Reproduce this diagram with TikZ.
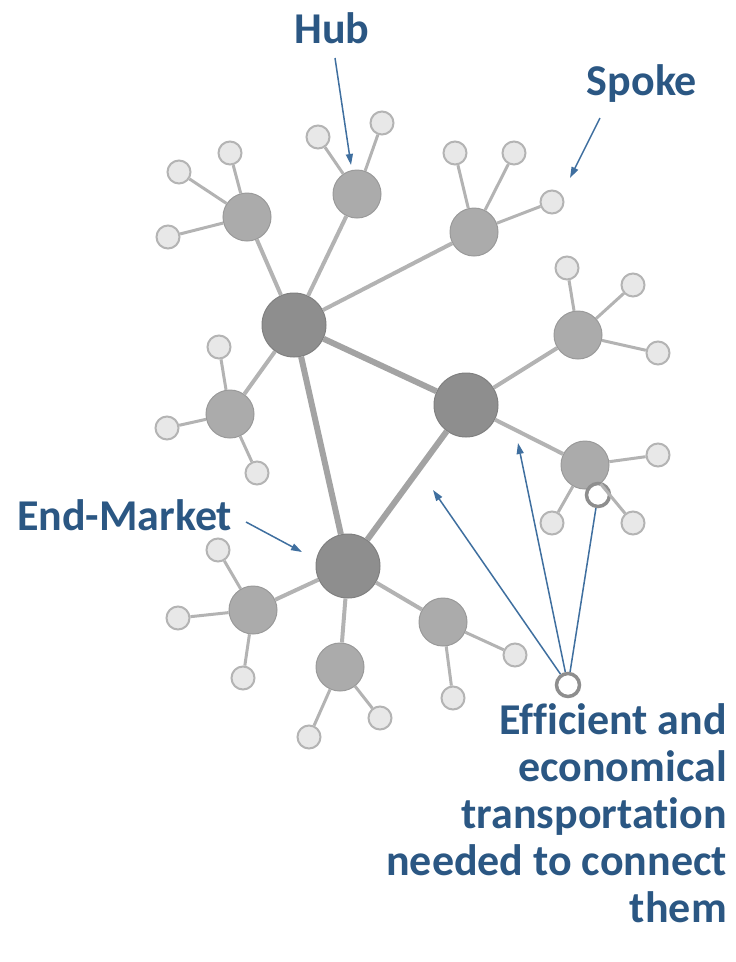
\documentclass[tikz,border=0pt]{standalone}
\usepackage{fontspec}
\setmainfont{Carlito}[Ligatures=CommonOff]
\usetikzlibrary{arrows.meta}
\definecolor{hubc}{HTML}{8E8E8E}
\definecolor{midc}{HTML}{ABABAB}
\definecolor{smallf}{HTML}{E8E8E8}
\definecolor{smalld}{HTML}{B4B4B4}
\definecolor{edgec}{HTML}{B3B3B3}
\definecolor{trunkc}{HTML}{A3A3A3}
\definecolor{txtc}{HTML}{2B5783}
\definecolor{arrc}{HTML}{3F6F9F}
\tikzset{
  hubnode/.style={circle,fill=hubc,draw=hubc!90!black,line width=1pt,inner sep=0,minimum size=64pt},
  midnode/.style={circle,fill=midc,draw=midc!90!black,line width=1pt,inner sep=0,minimum size=48pt},
  leaf/.style={circle,fill=smallf,draw=smalld,line width=2pt,inner sep=0,minimum size=23pt},
  whiteleaf/.style={circle,fill=white,draw=hubc,line width=3.5pt,inner sep=0,minimum size=23pt},
  trunk/.style={draw=trunkc,line width=6pt},
  branch/.style={draw=edgec,line width=4pt},
  twig/.style={draw=edgec,line width=3pt},
  lbl/.style={text=txtc,font=\bfseries\fontsize{44}{47}\selectfont,inner sep=0},
  pointer/.style={draw=arrc,line width=1.5pt,-{Triangle[length=11pt,width=7pt]}},
}
\begin{document}
\begin{tikzpicture}[x=1pt,y=-1pt]
\useasboundingbox (0,0) rectangle (736,962);
% nodes
\node[hubnode] (h1) at (294,325) {};
\node[hubnode] (h2) at (466,405) {};
\node[hubnode] (h3) at (348,566) {};
\node[midnode] (m1) at (247,217) {};
\node[midnode] (m2) at (357,194) {};
\node[midnode] (m3) at (474,232) {};
\node[midnode] (m4) at (578,335) {};
\node[midnode] (m5) at (230,414) {};
\node[midnode] (m6) at (585,465) {};
\node[midnode] (m7) at (253,610) {};
\node[midnode] (m8) at (340,667) {};
\node[midnode] (m9) at (443,622) {};
\node[leaf] (a1) at (230,153) {};
\node[leaf] (a2) at (179,172) {};
\node[leaf] (a3) at (168,237) {};
\node[leaf] (b1) at (318,137) {};
\node[leaf] (b2) at (382,123) {};
\node[leaf] (c1) at (455,153) {};
\node[leaf] (c2) at (514,153) {};
\node[leaf] (c3) at (552,202) {};
\node[leaf] (d1) at (567,268) {};
\node[leaf] (d2) at (633,285) {};
\node[leaf] (d3) at (658,353) {};
\node[leaf] (e1) at (219,347) {};
\node[leaf] (e2) at (167,428) {};
\node[leaf] (e3) at (257,473) {};
\node[leaf] (f1) at (658,455) {};
\node[leaf] (f2) at (552,523) {};
\node[leaf] (f3) at (633,523) {};
\node[leaf] (g1) at (218,550) {};
\node[leaf] (g2) at (178,618) {};
\node[leaf] (g3) at (243,678) {};
\node[leaf] (k1) at (309,737) {};
\node[leaf] (k2) at (380,718) {};
\node[leaf] (n1) at (515,655) {};
\node[leaf] (n2) at (453,698) {};
\node[whiteleaf] (w1) at (598,495) {};
\node[whiteleaf] (wb) at (568,685) {};
% edges
\draw[trunk] (h1) -- (h2);
\draw[trunk] (h1) -- (h3);
\draw[trunk] (h2) -- (h3);
\foreach \a/\b in {h1/m1,h1/m2,h1/m3,h1/m5,h2/m4,h2/m6,h3/m7,h3/m8,h3/m9}
  \draw[branch] (\a) -- (\b);
\foreach \a/\b in {m1/a1,m1/a2,m1/a3,m2/b1,m2/b2,m3/c1,m3/c2,m3/c3,m4/d1,m4/d2,m4/d3,m5/e1,m5/e2,m5/e3,m6/f1,m6/f2,m6/f3,m7/g1,m7/g2,m7/g3,m8/k1,m8/k2,m9/n1,m9/n2}
  \draw[twig] (\a) -- (\b);
% labels
\node[lbl,anchor=base] (hub) at (332,43) {Hub};
\node[lbl,anchor=base] (spoke) at (642,95) {Spoke};
\node[lbl,anchor=base west] (end) at (17,530) {End-Market};
\node[lbl,anchor=north east,align=right] (eff) at (727,703) {Efficient and\\economical\\transportation\\needed to connect\\them};
% pointers
\coordinate (hubfrom) at (335,58);
\coordinate (hubto) at (351,165);
\coordinate (spfrom) at (600,118);
\coordinate (spto) at (570,178);
\coordinate (emfrom) at (246,522);
\coordinate (emto) at (302,552);
\coordinate (t1) at (433,490);
\coordinate (t2) at (518,443);
\draw[pointer] (hubfrom) -- (hubto);
\draw[pointer] (spfrom) -- (spto);
\draw[pointer] (emfrom) -- (emto);
\draw[pointer] (wb) -- (t1);
\draw[pointer] (wb) -- (t2);
\draw[draw=arrc,line width=1.5pt] (wb) -- (w1);
\end{tikzpicture}
\end{document}
